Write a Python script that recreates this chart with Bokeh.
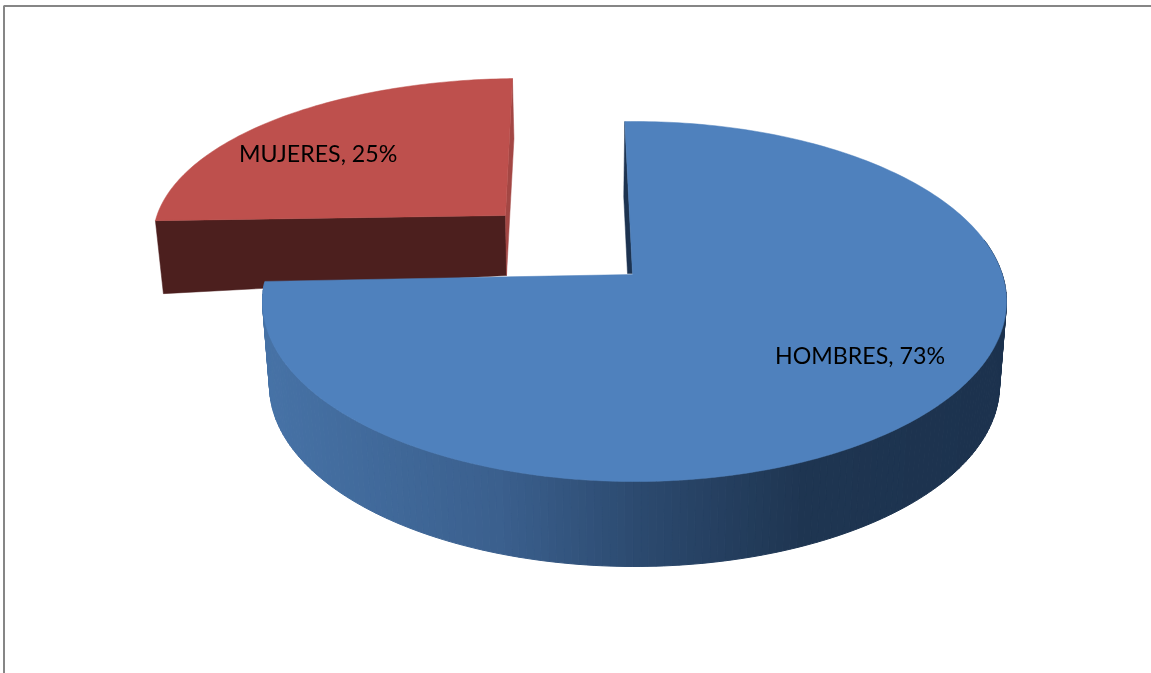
import numpy as np
from bokeh.plotting import figure
from bokeh.models import Range1d
from bokeh.embed import file_html
from bokeh.resources import INLINE
from bokeh.core.properties import value

categories = ["HOMBRES", "MUJERES"]
shares = [73, 25]
total = sum(shares)

W, H = 1151, 673
p = figure(width=W, height=H, output_backend="svg", toolbar_location=None,
           x_range=Range1d(0, W), y_range=Range1d(H, 0), min_border=0,
           x_axis_location=None, y_axis_location=None, margin=(0, 0, 0, 0))
p.styles = {"position": "fixed", "left": "0px", "top": "0px"}
p.grid.visible = False
p.outline_line_color = None
p.background_fill_color = "white"
p.border_fill_color = "white"


def warp(theta):
    # true pie angle (deg, clockwise from 12 o'clock) to angle on the tilted ellipse
    return theta - 1.5 - 9.75 * np.sin(np.radians(theta))


def arc(c, rx, ry, phi):
    r = np.radians(phi)
    return c[0] + rx * np.sin(r), c[1] - ry * np.cos(r)


sweep_h = 360 * shares[0] / total
sweep_m = 360 * shares[1] / total

# ---- MUJERES (exploded slice, behind) ----
cm, rxm, rym = (521.6, 238), 369, 160
apex_m = (505, 215)
th_m = np.linspace(sweep_h, sweep_h + sweep_m, 90)
mx, my = arc(cm, rxm, rym, warp(th_m))
dm = 73
# front cut face
p.patch([mx[0], apex_m[0], apex_m[0] + 1, mx[0] + 8],
        [my[0], apex_m[1], apex_m[1] + 60, my[0] + dm],
        fill_color="#4C1F1E", line_color="#4C1F1E", line_width=0.5)
# thin right face
p.patch([mx[-1], mx[-1] + 1.5, apex_m[0] + 1, apex_m[0]],
        [my[-1], my[-1] + 60, apex_m[1] + 60, apex_m[1]],
        fill_color="#A34744", line_color="#A34744", line_width=0.5)
# top
p.patch(list(mx) + [apex_m[0]], list(my) + [apex_m[1]],
        fill_color="#BE504D", line_color="#BE504D", line_width=0.5)

# ---- HOMBRES ----
ct, rxt, ryt = (634, 301), 372, 180
cb, rxb, ryb = (634, 385), 365, 181
apex_h = (630, 273)
stop_x = [262, 500, 640, 800, 1010]
stop_c = [(71, 115, 167), (59, 96, 142), (44, 74, 111), (31, 54, 82), (28, 50, 78)]

edges = np.linspace(70, 276, 171)
xs, ys, cols = [], [], []
for a, b in zip(edges[:-1], edges[1:]):
    x0, y0 = arc(ct, rxt, ryt, a)
    x1, y1 = arc(ct, rxt, ryt, b)
    x2, y2 = arc(cb, rxb, ryb, b)
    x3, y3 = arc(cb, rxb, ryb, a)
    xs.append([x0, x1, x2, x3])
    ys.append([y0, y1, y2, y3])
    xm = (x0 + x1 + x2 + x3) / 4
    rgb = [int(np.interp(xm, stop_x, [c[i] for c in stop_c])) for i in range(3)]
    cols.append("#%02X%02X%02X" % tuple(rgb))
p.patches(xs, ys, fill_color=cols, line_color=cols, line_width=1)

th_h = np.linspace(0, sweep_h, 240)
hx, hy = arc(ct, rxt, ryt, warp(th_h))
# thin dark inner face at 12 o'clock
p.patch([hx[0], hx[0] - 1, apex_h[0] - 3, apex_h[0] + 2],
        [hy[0], hy[0] + 75, apex_h[1], apex_h[1]],
        fill_color="#1D3350", line_color="#1D3350", line_width=0.5)
# top
p.patch(list(hx) + [apex_h[0] + 2, apex_h[0] + 2], list(hy) + [apex_h[1] + 1, apex_h[1]],
        fill_color="#4F81BD", line_color="#4F81BD", line_width=0.5)

# ---- labels ----
labels = [f"{c}, {s}%" for c, s in zip(categories, shares)]
p.text([774.5, 238.5], [354, 152], text=labels, text_font=value("Lato"), text_font_size="23.2px",
       text_color="#000000", text_baseline="alphabetic", text_align="left")

# ---- chart frame ----
p.line([3.5, 3.5, W], [H, 5.5, 5.5], line_color="#868686", line_width=2)

open("out.html", "w").write(file_html(p, INLINE))
